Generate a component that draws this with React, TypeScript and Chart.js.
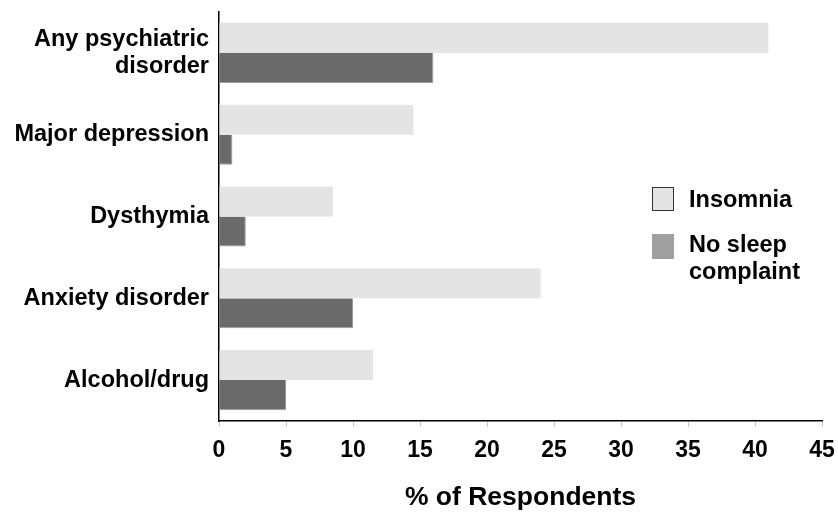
import React, { useEffect, useRef } from "react";
import { Chart, registerables } from "chart.js";

Chart.register(...registerables);

const categories: (string | string[])[] = [
  ["Any psychiatric", "disorder"],
  "Major depression",
  "Dysthymia",
  "Anxiety disorder",
  "Alcohol/drug",
];
const insomnia = [41, 14.5, 8.5, 24, 11.5];
const noSleepComplaint = [16, 1, 2, 10, 5];
const seriesNames = ["Insomnia", "No sleep complaint"];
const axisTitle = "% of Respondents";

const FONT = "'Liberation Sans', Arial, Helvetica, sans-serif";
const INSOMNIA_COLOR = "#e4e4e4";
const NO_SLEEP_COLOR = "#6a6a6a";

export default function App() {
  const canvasRef = useRef<HTMLCanvasElement | null>(null);

  useEffect(() => {
    if (!canvasRef.current) return;
    const chart = new Chart(canvasRef.current, {
      type: "bar",
      data: {
        labels: categories,
        datasets: [
          {
            label: seriesNames[0],
            data: insomnia,
            backgroundColor: INSOMNIA_COLOR,
            borderWidth: 0,
            categoryPercentage: 0.735,
            barPercentage: 1,
          },
          {
            label: seriesNames[1],
            data: noSleepComplaint,
            backgroundColor: NO_SLEEP_COLOR,
            borderColor: "#9a9a9a",
            borderWidth: { top: 0, right: 1, bottom: 1, left: 0 },
            borderSkipped: false,
            categoryPercentage: 0.735,
            barPercentage: 1,
          },
        ],
      },
      options: {
        indexAxis: "y",
        responsive: false,
        animation: false,
        layout: { padding: { top: 12, right: 16, left: 0, bottom: 0 } },
        plugins: {
          legend: { display: false },
          tooltip: { enabled: false },
        },
        scales: {
          x: {
            min: 0,
            max: 45,
            ticks: {
              stepSize: 5,
              color: "#000",
              padding: 10,
              font: { family: FONT, size: 23, weight: "bold" },
            },
            grid: {
              drawOnChartArea: false,
              drawTicks: true,
              tickLength: 6,
              color: "#c8c8c8",
              lineWidth: 1,
            },
            border: { display: true, color: "#000", width: 1.5 },
            title: {
              display: true,
              text: axisTitle,
              color: "#000",
              padding: { top: 0, bottom: 1 },
              font: { family: FONT, size: 26.5, weight: "bold" },
            },
            afterFit: (scale: any) => {
              scale.height = 94;
              scale.paddingLeft = 0;
              scale.paddingRight = 0;
            },
          },
          y: {
            ticks: {
              color: "#000",
              padding: 10,
              font: { family: FONT, size: 23.5, weight: "bold", lineHeight: 1.15 },
            },
            grid: { drawOnChartArea: false, drawTicks: false },
            border: { display: true, color: "#000", width: 1.5 },
            afterFit: (scale: any) => {
              scale.width = 219;
              scale.paddingTop = 0;
              scale.paddingBottom = 0;
            },
          },
        },
      },
    });
    return () => chart.destroy();
  }, []);

  const textStyle: React.CSSProperties = {
    position: "absolute",
    fontFamily: FONT,
    fontWeight: "bold",
    fontSize: 23.5,
    lineHeight: "27px",
    color: "#000",
    whiteSpace: "nowrap",
  };

  return (
    <div style={{ position: "fixed", left: 0, top: 0, width: 838, height: 515, background: "#fff" }}>
      <canvas ref={canvasRef} width={838} height={515} />
      <div
        style={{
          position: "absolute",
          left: 652,
          top: 187,
          width: 20,
          height: 22,
          background: INSOMNIA_COLOR,
          border: "1px solid #333",
        }}
      />
      <div style={{ ...textStyle, left: 689, top: 186 }}>{seriesNames[0]}</div>
      <div
        style={{
          position: "absolute",
          left: 652,
          top: 234,
          width: 22,
          height: 25,
          background: "#a0a0a0",
        }}
      />
      <div style={{ ...textStyle, left: 689, top: 231 }}>
        No sleep
        <br />
        complaint
      </div>
    </div>
  );
}
